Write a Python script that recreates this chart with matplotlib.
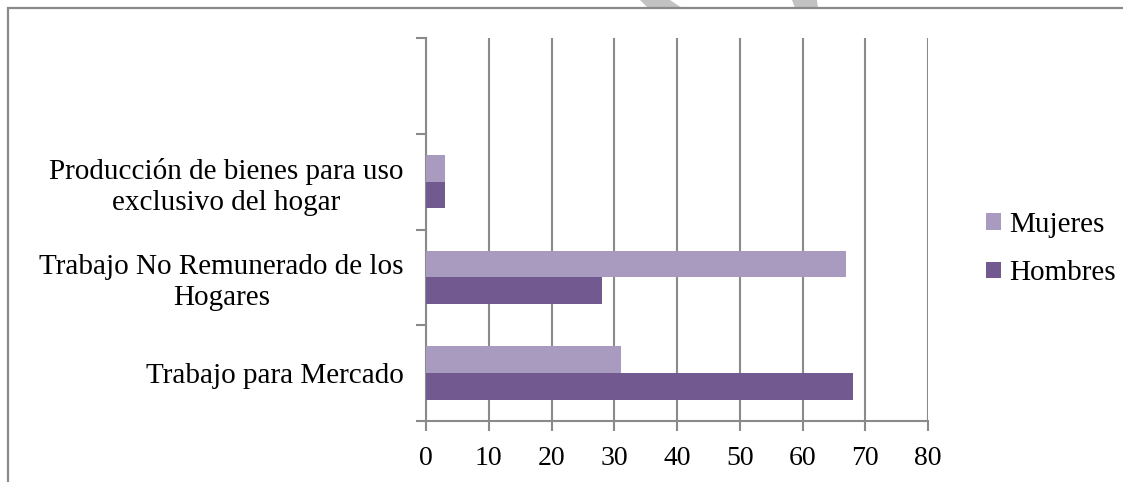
import matplotlib
matplotlib.use("Agg")
import matplotlib.pyplot as plt
from matplotlib.patches import Rectangle, Polygon
import numpy as np

categories = [
    "Trabajo para Mercado",
    "Trabajo No Remunerado de los\nHogares",
    "Producción de bienes para uso\nexclusivo del hogar",
    "",
]
mujeres = [31, 67, 3, 0]
hombres = [68, 28, 3, 0]
series_names = ["Mujeres", "Hombres"]
x_ticks = [0, 10, 20, 30, 40, 50, 60, 70, 80]

col_muj = "#A99BBF"
col_hom = "#725A90"
grid_col = "#8A8A8A"

plt.rcParams["font.family"] = ["Liberation Serif", "DejaVu Serif"]

W, H = 1123, 482
fig = plt.figure(figsize=(W / 100, H / 100), dpi=100)
ax = fig.add_axes([426 / W, 1 - 421 / H, (928 - 426) / W, (421 - 38) / H])


def px(points):
    return [(x / W, 1 - y / H) for x, y in points]


# faint page watermark strokes along the top edge
for pts in ([(640, 0), (670, 0), (682, 8), (648, 8)],
            [(792, 0), (817, 0), (818, 8), (795, 8)]):
    fig.patches.append(Polygon(px(pts), closed=True, transform=fig.transFigure,
                               facecolor="#C2C2C2", edgecolor="none", zorder=0))

# outer frame of the chart area (cut on the right and bottom)
fig.patches.append(Rectangle((8 / W, -0.1), 1.2, 1 - 8 / H + 0.1,
                             transform=fig.transFigure, fill=False,
                             edgecolor=grid_col, linewidth=1.6, zorder=1))

y = np.arange(len(categories))
h = 0.28
ax.barh(y - h / 2, hombres, height=h, color=col_hom, label=series_names[1], zorder=3)
ax.barh(y + h / 2, mujeres, height=h, color=col_muj, label=series_names[0], zorder=3)

ax.set_xlim(0, 80)
ax.set_ylim(-0.5, len(categories) - 0.5)
ax.set_xticks(x_ticks)
ax.set_xticklabels([str(v) for v in x_ticks], fontsize=20)
ax.xaxis.grid(True, color=grid_col, linewidth=1.5, zorder=0)
ax.set_axisbelow(True)

ax.set_yticks(np.arange(len(categories) + 1) - 0.5)
ax.set_yticklabels([])
ax.set_yticks(y, minor=True)
ax.set_yticklabels(categories, minor=True, fontsize=21)
for lbl in ax.get_yticklabels(minor=True):
    lbl.set_multialignment("center")
    lbl.set_linespacing(1.25)
ax.tick_params(axis="y", which="minor", length=0, pad=16)
ax.tick_params(axis="y", which="major", length=7, width=1.5, color=grid_col)
ax.tick_params(axis="x", length=7, width=1.5, color=grid_col, pad=11)

for s in ["top", "right"]:
    ax.spines[s].set_visible(False)
for s in ["left", "bottom"]:
    ax.spines[s].set_color(grid_col)
    ax.spines[s].set_linewidth(1.5)

handles, labels = ax.get_legend_handles_labels()
fig.legend(handles[::-1], labels[::-1], loc="center left",
           bbox_to_anchor=(986 / W, 1 - 249 / H), frameon=False,
           fontsize=21, handlelength=0.5, handleheight=0.5,
           handletextpad=0.3, labelspacing=0.78, borderaxespad=0, borderpad=0)

fig.savefig("out.png", dpi=100)
